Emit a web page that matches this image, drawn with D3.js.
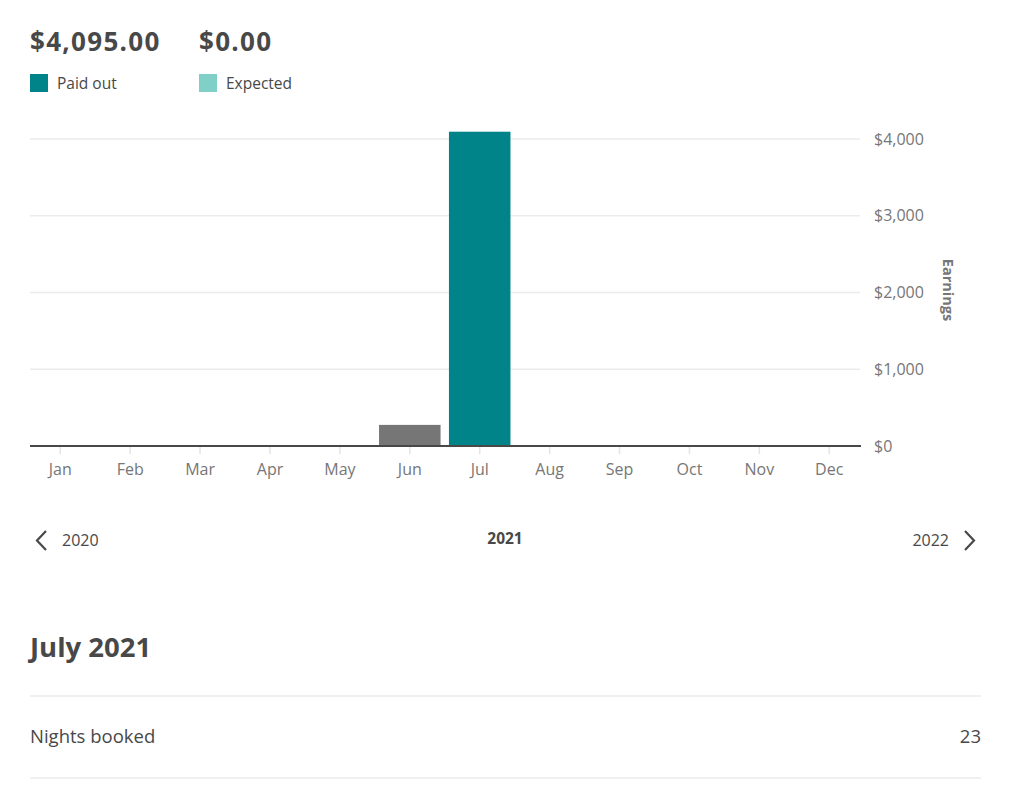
<!DOCTYPE html>
<html><head><meta charset="utf-8">
<script src="https://cdn.jsdelivr.net/npm/d3@7"></script>
<style>
body{margin:0;background:#fff;}
svg text{font-family:"Open Sans",sans-serif;}
</style></head>
<body><svg id="c" width="1024" height="790"></svg>
<script>
const months = ["Jan","Feb","Mar","Apr","May","Jun","Jul","Aug","Sep","Oct","Nov","Dec"];
const paidOut = [0,0,0,0,0,0,4095,0,0,0,0,0];
const otherEarnings = [0,0,0,0,0,275,0,0,0,0,0,0];
const yTicks = [0,1000,2000,3000,4000];
const totals = [{label:"Paid out", value:4095.00, color:"#008489"},{label:"Expected", value:0.00, color:"#80d0c7"}];
const years = ["2020","2021","2022"];
const detailTitle = "July 2021";
const detailRows = [{label:"Nights booked", value:"23"}];

const svg = d3.select("#c");
const dark = "#484848", gray = "#767676";

const x = d3.scaleBand().domain(months).range([25.3, 864.2]).paddingInner(0.12).paddingOuter(0.06);
const y = d3.scaleLinear().domain([0,4000]).range([446,139]);

// header totals
const fmt = d3.format("$,.2f");
const hx = [30,199];
totals.forEach((t,i)=>{
  svg.append("text").attr("x",hx[i]).attr("y",51).attr("font-size",26).attr("font-weight",700)
    .attr("letter-spacing",1.3).attr("fill",dark).text(fmt(t.value));
  svg.append("rect").attr("x",hx[i]).attr("y",74).attr("width",18).attr("height",18).attr("fill",t.color);
  svg.append("text").attr("x",hx[i]+27).attr("y",89).attr("font-size",15.5).attr("fill",dark).text(t.label);
});

// grid
svg.append("g").selectAll("line").data(yTicks.filter(d=>d>0)).join("line")
  .attr("x1",30).attr("x2",860).attr("y1",d=>y(d)).attr("y2",d=>y(d))
  .attr("stroke","#ebebeb").attr("stroke-width",1.5);

// y axis on right
const yAxis = svg.append("g").attr("transform","translate(860,0)")
  .call(d3.axisRight(y).tickValues(yTicks).tickSize(0).tickPadding(14).tickFormat(d=>"$"+d3.format(",")(d)));
yAxis.select(".domain").remove();
yAxis.selectAll("text").attr("font-size",16).attr("fill",gray).attr("font-family","Open Sans, sans-serif");

svg.append("text").attr("transform","translate(943,290) rotate(90)").attr("text-anchor","middle")
  .attr("font-size",14.5).attr("font-weight",700).attr("fill",gray).text("Earnings");

// bars
svg.append("g").selectAll("rect").data(months).join("rect")
  .attr("x",d=>x(d)).attr("width",x.bandwidth())
  .attr("y",(d,i)=>y(otherEarnings[i])).attr("height",(d,i)=>y(0)-y(otherEarnings[i]))
  .attr("fill","#767676");
svg.append("g").selectAll("rect").data(months).join("rect")
  .attr("x",d=>x(d)).attr("width",x.bandwidth())
  .attr("y",(d,i)=>y(paidOut[i])).attr("height",(d,i)=>y(0)-y(paidOut[i]))
  .attr("fill","#008489");

// x axis
const xAxis = svg.append("g").attr("transform","translate(0,447)")
  .call(d3.axisBottom(x).tickSize(7).tickPadding(10));
xAxis.select(".domain").remove();
xAxis.selectAll(".tick line").attr("stroke","#e4e4e4").attr("stroke-width",1.5);
xAxis.selectAll("text").attr("font-size",16).attr("fill",gray).attr("font-family","Open Sans, sans-serif");

// baseline
svg.append("line").attr("x1",30).attr("x2",861).attr("y1",y(0)).attr("y2",y(0)).attr("stroke",dark).attr("stroke-width",2);

// year nav
const chev = d3.line();
svg.append("path").attr("d",chev([[46,531],[37,540.5],[46,550]])).attr("fill","none").attr("stroke",dark).attr("stroke-width",2.2);
svg.append("text").attr("x",62).attr("y",546).attr("font-size",16).attr("fill",dark).text(years[0]);
svg.append("text").attr("x",505).attr("y",544).attr("text-anchor","middle").attr("font-size",15.5).attr("font-weight",700).attr("fill",dark).text(years[1]);
svg.append("text").attr("x",949).attr("y",546).attr("text-anchor","end").attr("font-size",16).attr("fill",dark).text(years[2]);
svg.append("path").attr("d",chev([[965,531],[974,540.5],[965,550]])).attr("fill","none").attr("stroke",dark).attr("stroke-width",2.2);

// detail
svg.append("text").attr("x",30).attr("y",657).attr("font-size",27.5).attr("font-weight",700).attr("fill",dark).text(detailTitle);
svg.append("line").attr("x1",30).attr("x2",981).attr("y1",696).attr("y2",696).attr("stroke","#ebebeb").attr("stroke-width",1.5);
detailRows.forEach((r,i)=>{
  svg.append("text").attr("x",30).attr("y",743).attr("font-size",18.5).attr("fill",dark).text(r.label);
  svg.append("text").attr("x",981).attr("y",743).attr("text-anchor","end").attr("font-size",18.5).attr("fill",dark).text(r.value);
});
svg.append("line").attr("x1",30).attr("x2",981).attr("y1",778).attr("y2",778).attr("stroke","#ebebeb").attr("stroke-width",1.5);
</script></body></html>
